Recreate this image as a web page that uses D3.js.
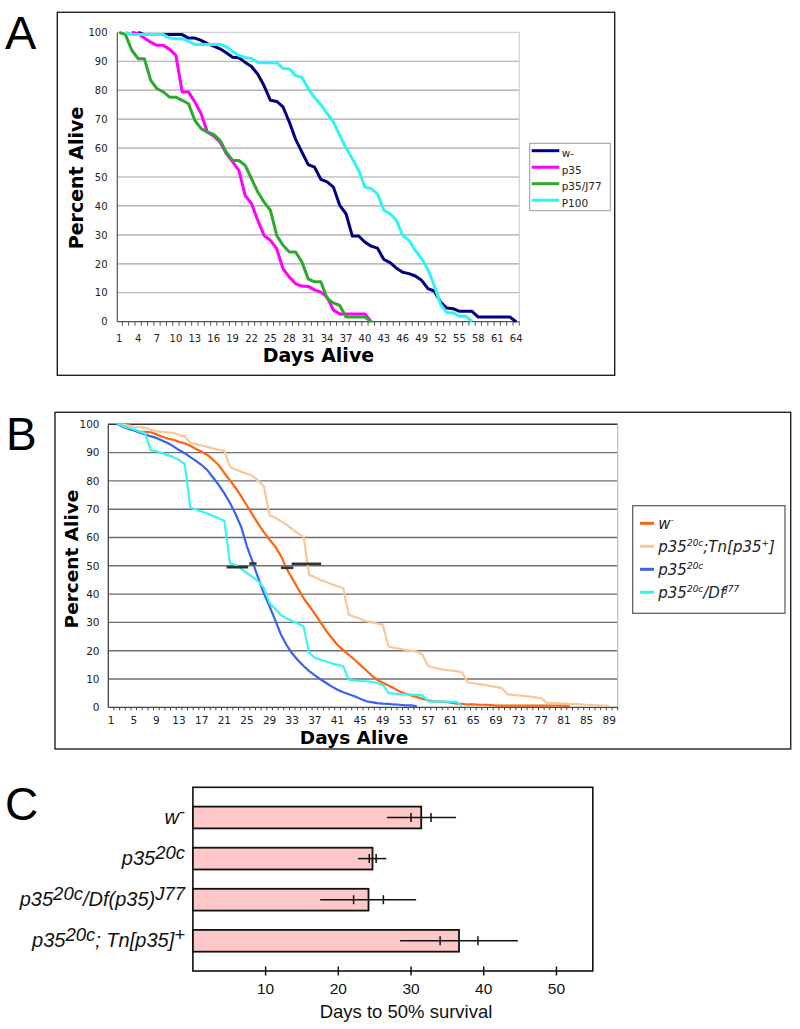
<!DOCTYPE html>
<html><head><meta charset="utf-8">
<script src="https://cdn.jsdelivr.net/npm/d3@7"></script>
<style>body{margin:0;background:#fff}svg{display:block}</style>
</head><body>
<svg id="chart" width="800" height="1029"></svg>
<script>
// ---------------- Panel A data ----------------
const aXTickLabels = [1,4,7,10,13,16,19,22,25,28,31,34,37,40,43,46,49,52,55,58,61,64];
const aYTicks = [0,10,20,30,40,50,60,70,80,90,100];
const aNames = ["w-","p35","p35/J77","P100"];
const aColors = ["#000080","#FF00FF","#2EA82E","#2EF5F5"];
const aWminus = [null,null,null,100,99.2,99.2,99.2,99.2,99.2,99.2,99.2,98,98,97.2,96.1,95.2,94.3,92.9,91.4,91.2,89.6,88.2,85.5,81.5,76.5,76.1,74.2,69,63,58.6,54.3,53.4,49.2,48.3,46.5,40.2,37.3,29.6,29.6,27.5,26.1,25.4,21.5,20.4,18.5,17.1,16.6,15.8,14.3,11.4,10.6,6.8,4.7,4.5,3.6,3.6,3.6,1.6,1.6,1.6,1.6,1.6,1.6,0];
const aP35 = [null,null,100,99.5,98,96.6,95.5,95.5,94.1,92,79.4,79.4,75.9,71.9,65.5,64.2,62.1,58.1,55.2,52.3,43.6,40.8,35,29.8,28.1,25.2,18.3,15.4,13.1,12.3,12.2,11,10.2,8.5,4,2.7,2.7,2.7,2.7,2.7,0];
const aP35J77 = [100,99.2,93.8,90.9,90.9,83.4,80.5,79.4,77.6,77.6,76.5,75.3,69.6,66.7,65.5,64.7,62.7,58.6,55.7,55.7,54,49.4,44.8,41.3,38.5,29.8,26.4,24.1,24.1,20.6,14.8,13.8,13.8,8,6.5,5.6,1.6,1.6,1.6,1.6,0];
const aP100 = [null,100,99.2,99.2,99.2,99.2,99.2,99.2,98,97.8,97.8,96.9,95.8,95.8,95.8,95.8,95.8,95,93.4,92,91.3,90.9,89.6,89.5,89.5,89.5,87.5,87.4,85,84.5,80.5,77.5,75,72,69,64.4,60,56.3,52.3,46.5,46,44.2,38.5,37.3,35,29.8,28.1,24.6,21.8,18,12.5,6,3.1,3.1,1.9,1.9,0];

// ---------------- Panel B data ----------------
const bXTickLabels = [1,5,9,13,17,21,25,29,33,37,41,45,49,53,57,61,65,69,73,77,81,85,89];
const bYTicks = [0,10,20,30,40,50,60,70,80,90,100];
const bColors = ["#FF6410","#FAC79A","#3A62F0","#33F5F5"];
const bWminus = [null,100,99.5,98.8,98,97.4,97.3,97.2,96.5,95.6,95,94.5,93.8,93.3,92.4,91.3,90.3,89.2,87.5,85.6,82.8,80.2,77.5,74.5,71.2,68,64.8,61.8,59.2,56.8,53.5,49,45.5,42,38.6,35.8,33,30,27,24.5,22,20.2,18.5,16.8,15,13.2,11.3,9.7,8.7,7.7,6.7,5.6,4.8,4.2,3.6,3,2.5,2.1,2,1.9,1.6,1.3,1.2,1,1,0.9,0.9,0.8,0.6,0.6,0.6,0.6,0.6,0.6,0.6,0.6,0.6,0.6,0.6,0.6,0.6,0.5];
const bRescue = [null,100,99.8,99.6,99.2,99,98.8,98.1,97.5,97.3,97.2,97,96.2,95.8,93.5,93,92.5,92,91.5,91,90.6,85,84,83.2,82.5,81.8,80,78,67.8,67,65.8,64.5,63,61.5,60.2,46.8,46,45,44.3,43.5,42.8,42.1,32.7,32,31.2,30.5,30,29.6,29.2,21.5,21,20.7,20.3,20,19.7,18.6,14.6,14,13.6,13.2,13,12.8,12.4,8.8,8.5,8.2,7.9,7.5,7.2,6.8,4.6,4.4,4.2,4,3.8,3.5,3.2,1.6,1.5,1.4,1.3,1.2,1.1,1,0.9,0.8,0.7,0.6,0.5];
const bNull = [null,100,99.2,98.4,97.8,97.1,96.4,95.8,95.2,94.3,93.4,92.2,90.9,89.8,88.4,87.1,85.6,83.8,81.2,78.6,75.6,72.2,68.2,63.6,56.8,51.4,45.6,40.2,35.6,30.8,25.7,22,19,16.6,14.6,12.8,11.3,9.9,8.6,7.3,6.2,5.3,4.6,3.9,3,2.2,1.8,1.5,1.3,1.2,1,0.9,0.7,0.7,0.3];
const bDf = [null,100,99.5,98.8,98.2,97.5,96.8,90.9,90.5,89.8,89.2,88.4,87.4,85.9,70.6,69.8,69.2,68.5,67.6,66.8,65.9,50.9,50.3,48.9,47.4,46,44.5,42.1,36.8,34.8,32.5,31.5,30.5,29.6,28.6,19.2,17.5,16.8,16.2,15.5,15,14.5,9.8,9.5,9.3,9.2,9,8.6,8,5,4.8,4.7,4.6,4.5,4.4,4.2,2.1,2,2,2,1.9,1.9,0.5];
const bLegendParts = [
  [["w",0],["-",1]],
  [["p35",0],["20c",1],[";Tn[p35",0],["+",1],["]",0]],
  [["p35",0],["20c",1]],
  [["p35",0],["20c",1],["/Df",0],["J77",1]]
];
const bMedFrom = [21.4, 25.4, 31.0, 32.9];
const bMedTo = [25.2, 26.7, 33.2, 38.1];
const bMedLevel = [49.5, 50.8, 49.3, 50.7];

// ---------------- Panel C data ----------------
const cLabelParts = [
  [["w",0],["-",1]],
  [["p35",0],["20c",1]],
  [["p35",0],["20c",1],["/Df(p35)",0],["J77",1]],
  [["p35",0],["20c",1],["; Tn[p35]",0],["+",1]]
];
const cMeans = [31.4, 24.7, 24.15, 36.6];
const cErrLow = [26.7, 22.7, 17.5, 28.5];
const cErrHigh = [36.2, 26.6, 30.7, 44.7];
const cInnerLow = [30.0, 24.25, 22.1, 34.0];
const cInnerHigh = [32.75, 25.2, 26.2, 39.2];
const cXTicks = [10,20,30,40,50];

// ---------------- helpers ----------------
const svg = d3.select("#chart");
const VER = "DejaVu Sans, Verdana, sans-serif";
const HEL = "Liberation Sans, Arial, sans-serif";

function rich(textSel, parts, supSize, rise) {
  let shift = 0;
  parts.forEach(([t, sup]) => {
    const target = sup ? -rise : 0;
    const ts = textSel.append("tspan").attr("dy", target - shift).text(t);
    if (sup) ts.attr("font-size", supSize);
    shift = target;
  });
}
function drawSeries(g, values, x, y, color, width) {
  const pts = values.map((v, i) => ({day: i + 1, v}));
  g.append("path").datum(pts)
    .attr("fill", "none").attr("stroke", color).attr("stroke-width", width)
    .attr("stroke-linejoin", "round")
    .attr("d", d3.line().defined(d => d.v != null).x(d => x(d.day)).y(d => y(d.v)));
}

// ================= PANEL A =================
(function () {
  const L = 117.3, R = 519.3, T = 32.3, Bt = 321.7;
  const x = d3.scaleLinear().domain([0.7, 64.5]).range([L, R]);
  const y = d3.scaleLinear().domain([0, 100]).range([Bt, T]);
  const g = svg.append("g");
  g.append("rect").attr("x", 57.3).attr("y", 12.3).attr("width", 557.4).attr("height", 363)
    .attr("fill", "none").attr("stroke", "#222").attr("stroke-width", 1.4);
  g.append("text").attr("x", 5).attr("y", 48.5).attr("font-family", HEL).attr("font-size", 47).text("A");
  g.selectAll(".gA").data(aYTicks.filter(v => v > 0 && v < 100)).enter().append("line")
    .attr("x1", L).attr("x2", R).attr("y1", d => y(d)).attr("y2", d => y(d))
    .attr("stroke", "#a4a4a4").attr("stroke-width", 1.2);
  g.append("line").attr("x1", L).attr("x2", R).attr("y1", y(100)).attr("y2", y(100)).attr("stroke", "#d0d0d0").attr("stroke-width", 1.2);
  g.append("line").attr("x1", R).attr("x2", R).attr("y1", y(100)).attr("y2", y(0)).attr("stroke", "#d0d0d0").attr("stroke-width", 1.2);
  g.append("line").attr("x1", L).attr("x2", L).attr("y1", y(100)).attr("y2", y(0)).attr("stroke", "#555").attr("stroke-width", 1.2);
  g.append("line").attr("x1", L).attr("x2", R).attr("y1", y(0)).attr("y2", y(0)).attr("stroke", "#555").attr("stroke-width", 1.2);
  const bounds = d3.range(1, 65).map(d => d + 0.5);
  g.selectAll(".tA").data(bounds).enter().append("line")
    .attr("x1", d => x(d)).attr("x2", d => x(d)).attr("y1", y(0)).attr("y2", y(0) + 4)
    .attr("stroke", "#555").attr("stroke-width", 1);
  g.selectAll(".ylA").data(aYTicks).enter().append("text")
    .attr("x", 107.5).attr("y", d => y(d) + 3.7).attr("text-anchor", "end")
    .attr("font-family", VER).attr("font-size", 10).attr("fill", "#222").text(d => d);
  g.selectAll(".xlA").data(aXTickLabels).enter().append("text")
    .attr("x", d => x(d)).attr("y", 342).attr("text-anchor", "middle")
    .attr("font-family", VER).attr("font-size", 10).attr("fill", "#222").text(d => d);
  g.append("text").attr("transform", "translate(82.5,178) rotate(-90)").attr("text-anchor", "middle")
    .attr("font-family", VER).attr("font-weight", "bold").attr("font-size", 19).text("Percent Alive");
  g.append("text").attr("x", 318.5).attr("y", 362).attr("text-anchor", "middle")
    .attr("font-family", VER).attr("font-weight", "bold").attr("font-size", 19).text("Days Alive");
  const series = [aWminus, aP35, aP35J77, aP100];
  series.forEach((s, i) => drawSeries(g, s, x, y, aColors[i], 3));
  g.append("rect").attr("x", 529.7).attr("y", 143.3).attr("width", 80.6).attr("height", 67.4)
    .attr("fill", "#fff").attr("stroke", "#9a9a9a").attr("stroke-width", 1);
  aNames.forEach((n, i) => {
    const ly = 150.7 + i * 16.5;
    g.append("line").attr("x1", 531.7).attr("x2", 559.3).attr("y1", ly).attr("y2", ly)
      .attr("stroke", aColors[i]).attr("stroke-width", 3);
    g.append("text").attr("x", 561.7).attr("y", ly + 6.3).attr("font-family", VER).attr("font-size", 10.5)
      .attr("fill", "#222").text(n);
  });
})();

// ================= PANEL B =================
(function () {
  const L = 108.3, R = 617.7, T = 424.3, Bt = 707.3;
  const x = d3.scaleLinear().domain([0.5, 90.5]).range([L, R]);
  const y = d3.scaleLinear().domain([0, 100]).range([Bt, T]);
  const g = svg.append("g");
  g.append("rect").attr("x", 55).attr("y", 412.3).attr("width", 735.7).attr("height", 336.7)
    .attr("fill", "none").attr("stroke", "#222").attr("stroke-width", 1.4);
  g.append("text").attr("x", 6).attr("y", 449.5).attr("font-family", HEL).attr("font-size", 46).text("B");
  g.selectAll(".gB").data(bYTicks.filter(v => v > 0 && v < 100)).enter().append("line")
    .attr("x1", L).attr("x2", R).attr("y1", d => y(d)).attr("y2", d => y(d))
    .attr("stroke", "#707070").attr("stroke-width", 1.4);
  g.append("line").attr("x1", L).attr("x2", R).attr("y1", y(100)).attr("y2", y(100)).attr("stroke", "#333").attr("stroke-width", 1.4);
  g.append("line").attr("x1", R).attr("x2", R).attr("y1", y(100)).attr("y2", y(0)).attr("stroke", "#bbb").attr("stroke-width", 1.2);
  g.append("line").attr("x1", L).attr("x2", L).attr("y1", y(100)).attr("y2", y(0)).attr("stroke", "#444").attr("stroke-width", 1.3);
  g.append("line").attr("x1", L).attr("x2", R).attr("y1", y(0)).attr("y2", y(0)).attr("stroke", "#444").attr("stroke-width", 1.3);
  const bounds = d3.range(1, 91).map(d => d + 0.5);
  g.selectAll(".tB").data(bounds).enter().append("line")
    .attr("x1", d => x(d)).attr("x2", d => x(d)).attr("y1", y(0)).attr("y2", y(0) + 3)
    .attr("stroke", "#444").attr("stroke-width", 1);
  g.selectAll(".ylB").data(bYTicks).enter().append("text")
    .attr("x", 99.5).attr("y", d => y(d) + 3.8).attr("text-anchor", "end")
    .attr("font-family", VER).attr("font-size", 10.5).attr("fill", "#222").text(d => d);
  g.selectAll(".xlB").data(bXTickLabels).enter().append("text")
    .attr("x", d => x(d)).attr("y", 723.8).attr("text-anchor", "middle")
    .attr("font-family", VER).attr("font-size", 10.5).attr("fill", "#222").text(d => d);
  g.append("text").attr("transform", "translate(77.5,559) rotate(-90)").attr("text-anchor", "middle")
    .attr("font-family", VER).attr("font-weight", "bold").attr("font-size", 18.5).text("Percent Alive");
  g.append("text").attr("x", 354).attr("y", 743.5).attr("text-anchor", "middle")
    .attr("font-family", VER).attr("font-weight", "bold").attr("font-size", 18.5).text("Days Alive");
  const series = [bWminus, bRescue, bNull, bDf];
  series.forEach((s, i) => drawSeries(g, s, x, y, bColors[i], 2.2));
  bMedFrom.forEach((f, i) => {
    g.append("line").attr("x1", x(f)).attr("x2", x(bMedTo[i])).attr("y1", y(bMedLevel[i])).attr("y2", y(bMedLevel[i]))
      .attr("stroke", "#333").attr("stroke-width", 2.6);
  });
  g.append("rect").attr("x", 632.7).attr("y", 505.7).attr("width", 152.3).attr("height", 107.6)
    .attr("fill", "#fff").attr("stroke", "#555").attr("stroke-width", 1.2);
  bLegendParts.forEach((parts, i) => {
    const ly = 523.3 + i * 23;
    g.append("line").attr("x1", 640).attr("x2", 654).attr("y1", ly).attr("y2", ly)
      .attr("stroke", bColors[i]).attr("stroke-width", 3);
    const t = g.append("text").attr("x", 658.3).attr("y", ly + 5.5).attr("font-family", VER)
      .attr("font-style", "italic").attr("font-size", 15).attr("fill", "#222");
    rich(t, parts, 9, 5.5);
  });
})();

// ================= PANEL C =================
(function () {
  const L = 192.9, T = 787.3, Bt = 971;
  const x = d3.scaleLinear().domain([0, 55]).range([L, 592.8]);
  const y = d3.scaleBand().domain(d3.range(cMeans.length)).range([T, Bt]).paddingInner(0.47).paddingOuter(0.47);
  const g = svg.append("g");
  g.append("text").attr("x", 5).attr("y", 820).attr("font-family", HEL).attr("font-size", 46).text("C");
  g.append("rect").attr("x", L).attr("y", T).attr("width", x(55) - L).attr("height", Bt - T)
    .attr("fill", "none").attr("stroke", "#111").attr("stroke-width", 1.6);
  g.selectAll(".bar").data(cMeans).enter().append("rect")
    .attr("x", x(0)).attr("y", (d, i) => y(i)).attr("width", d => x(d) - x(0)).attr("height", y.bandwidth())
    .attr("fill", "#FFC8C8").attr("stroke", "#111").attr("stroke-width", 1.8);
  cMeans.forEach((m, i) => {
    const cy = y(i) + y.bandwidth() / 2;
    g.append("line").attr("x1", x(cErrLow[i])).attr("x2", x(cErrHigh[i])).attr("y1", cy).attr("y2", cy)
      .attr("stroke", "#111").attr("stroke-width", 1.5);
    [cInnerLow[i], cInnerHigh[i]].forEach(v => {
      g.append("line").attr("x1", x(v)).attr("x2", x(v)).attr("y1", cy - 4.5).attr("y2", cy + 4.5)
        .attr("stroke", "#111").attr("stroke-width", 1.5);
    });
    const t = g.append("text").attr("x", 185).attr("y", cy + 6.5).attr("text-anchor", "end")
      .attr("font-family", HEL).attr("font-style", "italic").attr("font-size", 20).attr("fill", "#111");
    rich(t, cLabelParts[i], 18.5, 6);
  });
  g.selectAll(".tC").data(cXTicks).enter().append("line")
    .attr("x1", d => x(d)).attr("x2", d => x(d)).attr("y1", Bt - 4.5).attr("y2", Bt + 4.5)
    .attr("stroke", "#111").attr("stroke-width", 1.5);
  g.selectAll(".xlC").data(cXTicks).enter().append("text")
    .attr("x", d => x(d)).attr("y", 993.8).attr("text-anchor", "middle")
    .attr("font-family", HEL).attr("font-size", 15.5).attr("fill", "#111").text(d => d);
  g.append("text").attr("x", 406).attr("y", 1018).attr("text-anchor", "middle")
    .attr("font-family", HEL).attr("font-size", 18.5).attr("fill", "#111").text("Days to 50% survival");
})();
</script>
</body></html>
